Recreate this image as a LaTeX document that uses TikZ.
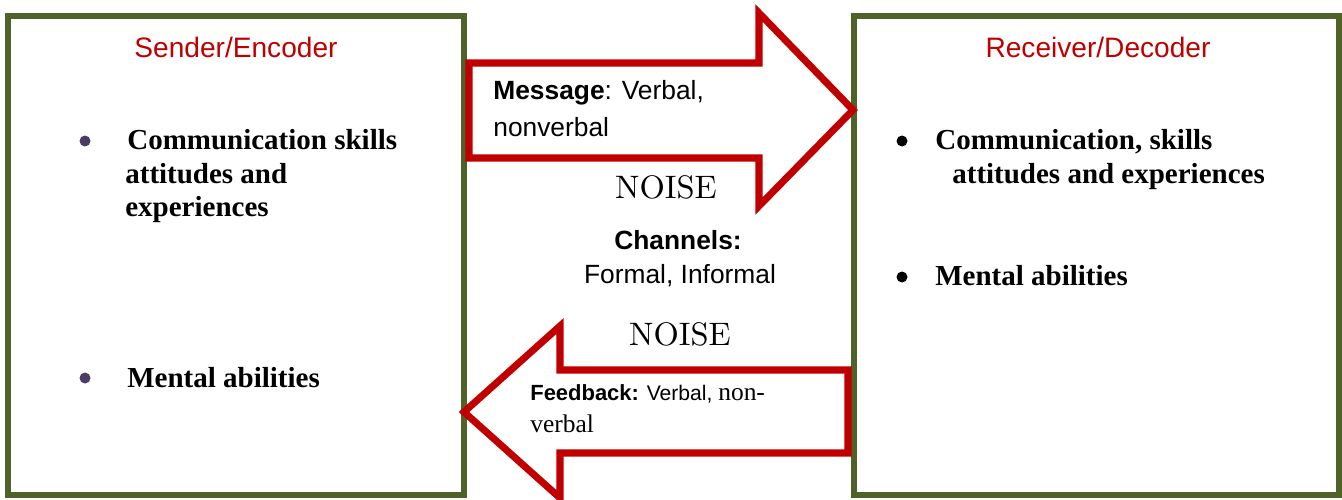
\documentclass[tikz,border=0pt]{standalone}
\usepackage{fontspec}
\setsansfont{Liberation Sans}
\newfontfamily\timesfont{Liberation Serif}
\newfontfamily\noisefont{lmroman10-regular.otf}
\usepackage{xcolor}
\definecolor{boxgreen}{HTML}{4F6228}
\definecolor{arrowred}{HTML}{C00000}
\definecolor{dotpurple}{HTML}{4A3C63}
\tikzset{
  partybox/.style={draw=boxgreen, line width=3.4pt},
  blockarrow/.style={draw=arrowred, fill=white, line width=4pt, line join=miter},
  boxtitle/.style={text=arrowred, font=\sffamily\fontsize{16}{19}\selectfont, anchor=base, inner sep=0pt},
  point/.style={font=\timesfont\bfseries\fontsize{16.5}{19}\selectfont, anchor=base west, inner sep=0pt},
  bulletdot/.style={circle, fill=#1, inner sep=0pt, minimum size=0.22cm},
  midtext/.style={font=\sffamily\fontsize{15}{18}\selectfont, inner sep=0pt},
  noise/.style={font=\noisefont\fontsize{18.5}{21}\selectfont, anchor=base, inner sep=0pt}
}

\begin{document}
\begin{tikzpicture}[x=0.02cm, y=-0.02cm]

  \useasboundingbox (0,0) rectangle (1342,500);

  \coordinate (S1) at (8,16);
  \coordinate (S2) at (464,495);
  \coordinate (R1) at (854,16);
  \coordinate (R2) at (1339,495);

  \draw[partybox] (S1) rectangle (S2);
  \draw[partybox] (R1) rectangle (R2);

  \draw[blockarrow] (469,63) -- (759,63) -- (759,13) -- (853,110)
    -- (759,206) -- (759,158) -- (469,158) -- cycle;
  \draw[blockarrow] (848,370) -- (560,370) -- (560,326) -- (464,412)
    -- (560,498) -- (560,453) -- (848,453) -- cycle;

  \node[boxtitle] (sender) at (236,58) {Sender/Encoder};
  \node[boxtitle] (receiver) at (1098,58) {Receiver/Decoder};

  \node[bulletdot=dotpurple] (sdot1) at (85,141) {};
  \node[point] (sitem1a) at (127,150) {Communication skills};
  \node[point] (sitem1b) at (125,183) {attitudes and};
  \node[point] (sitem1c) at (125,216) {experiences};
  \node[bulletdot=dotpurple] (sdot2) at (85,378) {};
  \node[point] (sitem2) at (127,387) {Mental abilities};

  \node[bulletdot=black] (rdot1) at (902,141) {};
  \node[point] (ritem1a) at (935,150) {Communication, skills};
  \node[point] (ritem1b) at (952,183) {attitudes and experiences};
  \node[bulletdot=black] (rdot2) at (902,277) {};
  \node[point] (ritem2) at (935,285) {Mental abilities};

  \node[midtext, anchor=base west] (msg1) at (493,100) {\textbf{Message}: Verbal,};
  \node[midtext, anchor=base west] (msg2) at (493,136) {nonverbal};

  \node[noise] (noise1) at (666,198) {NOISE};
  \node[midtext, anchor=base] (chan1) at (678,249) {\textbf{Channels:}};
  \node[midtext, anchor=base] (chan2) at (680,283) {Formal, Informal};
  \node[noise] (noise2) at (680,345) {NOISE};

  \node[inner sep=0pt, anchor=base west] (fb1) at (530,400)
    {{\sffamily\bfseries\fontsize{12.5}{15}\selectfont Feedback:} {\sffamily\fontsize{12}{15}\selectfont Verbal,} {\timesfont\fontsize{14.5}{17}\selectfont non-}};
  \node[inner sep=0pt, anchor=base west, font=\timesfont\fontsize{14.5}{17}\selectfont] (fb2) at (530,432) {verbal};

\end{tikzpicture}
\end{document}
